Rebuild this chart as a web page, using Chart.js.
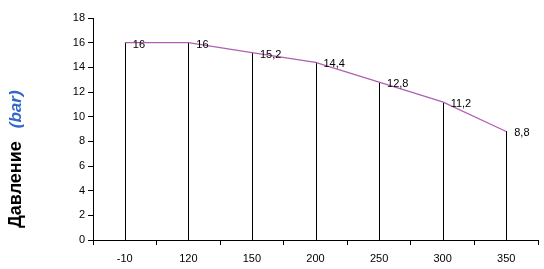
<!DOCTYPE html>
<html>
<head>
<meta charset="utf-8">
<script src="https://cdn.jsdelivr.net/npm/chart.js@4"></script>
<style>
  html, body { margin: 0; padding: 0; background: #fff; }
  #wrap { width: 544px; height: 269px; }
</style>
</head>
<body>
<div id="wrap"><canvas id="chart"></canvas></div>
<script>
const categories = ['-10', '120', '150', '200', '250', '300', '350'];
const pressure = [16, 16, 15.2, 14.4, 12.8, 11.2, 8.8];
const yTicks = [0, 2, 4, 6, 8, 10, 12, 14, 16, 18];

const FONT = 'Arial, "Liberation Sans", sans-serif';

// black drop lines from each point down to the x axis
const dropLines = {
    id: 'dropLines',
    beforeDatasetsDraw(chart) {
        const meta = chart.getDatasetMeta(0);
        const base = chart.scales.y.getPixelForValue(0);
        const ctx = chart.ctx;
        ctx.save();
        ctx.strokeStyle = '#000';
        ctx.lineWidth = 1;
        meta.data.forEach((pt) => {
            const x = Math.round(pt.x) + 0.5;
            ctx.beginPath();
            ctx.moveTo(x, Math.round(pt.y));
            ctx.lineTo(x, base);
            ctx.stroke();
        });
        ctx.restore();
    }
};

// value labels right of each point on the line
const valueLabels = {
    id: 'valueLabels',
    afterDatasetsDraw(chart) {
        const meta = chart.getDatasetMeta(0);
        const ctx = chart.ctx;
        ctx.save();
        ctx.font = '11px ' + FONT;
        ctx.fillStyle = '#000';
        ctx.textAlign = 'left';
        ctx.textBaseline = 'middle';
        meta.data.forEach((pt, i) => {
            const txt = String(pressure[i]).replace('.', ',');
            ctx.fillText(txt, pt.x + 8, pt.y + 2);
        });
        ctx.restore();
    }
};

// rotated two-colour axis title
const axisTitle = {
    id: 'axisTitle',
    afterDraw(chart) {
        const ctx = chart.ctx;
        ctx.save();
        ctx.translate(16, 228);
        ctx.rotate(-Math.PI / 2);
        ctx.textBaseline = 'middle';
        ctx.textAlign = 'left';
        ctx.font = 'bold 18px ' + FONT;
        ctx.fillStyle = '#000';
        ctx.fillText('Давление', 0, 0);
        const w = ctx.measureText('Давление').width;
        ctx.font = 'italic bold 17px ' + FONT;
        ctx.fillStyle = '#3366cc';
        ctx.fillText('(bar)', w + 13, 0);
        ctx.restore();
    }
};

new Chart(document.getElementById('chart').getContext('2d'), {
    type: 'line',
    data: {
        labels: categories,
        datasets: [{
            data: pressure,
            borderColor: '#b060b0',
            borderWidth: 1.3,
            pointRadius: 0,
            tension: 0
        }]
    },
    options: {
        responsive: true,
        maintainAspectRatio: false,
        animation: false,
        layout: { padding: { top: 18, right: 6, left: 0, bottom: 0 } },
        plugins: {
            legend: { display: false },
            tooltip: { enabled: false }
        },
        scales: {
            x: {
                offset: true,
                grid: {
                    offset: true,
                    drawOnChartArea: false,
                    tickLength: 5,
                    color: '#000'
                },
                border: { color: '#000', width: 1 },
                ticks: {
                    color: '#000',
                    font: { family: FONT, size: 11 },
                    padding: 7,
                    maxRotation: 0
                },
                afterFit(scale) { scale.height = 29; }
            },
            y: {
                min: 0,
                max: 18,
                afterBuildTicks(scale) {
                    scale.ticks = yTicks.map(v => ({ value: v }));
                },
                grid: {
                    drawOnChartArea: false,
                    tickLength: 5,
                    color: '#000'
                },
                border: { color: '#000', width: 1 },
                ticks: {
                    color: '#000',
                    font: { family: FONT, size: 11 },
                    padding: 3
                },
                afterFit(scale) { scale.width = 93; }
            }
        }
    },
    plugins: [dropLines, valueLabels, axisTitle]
});
</script>
</body>
</html>
